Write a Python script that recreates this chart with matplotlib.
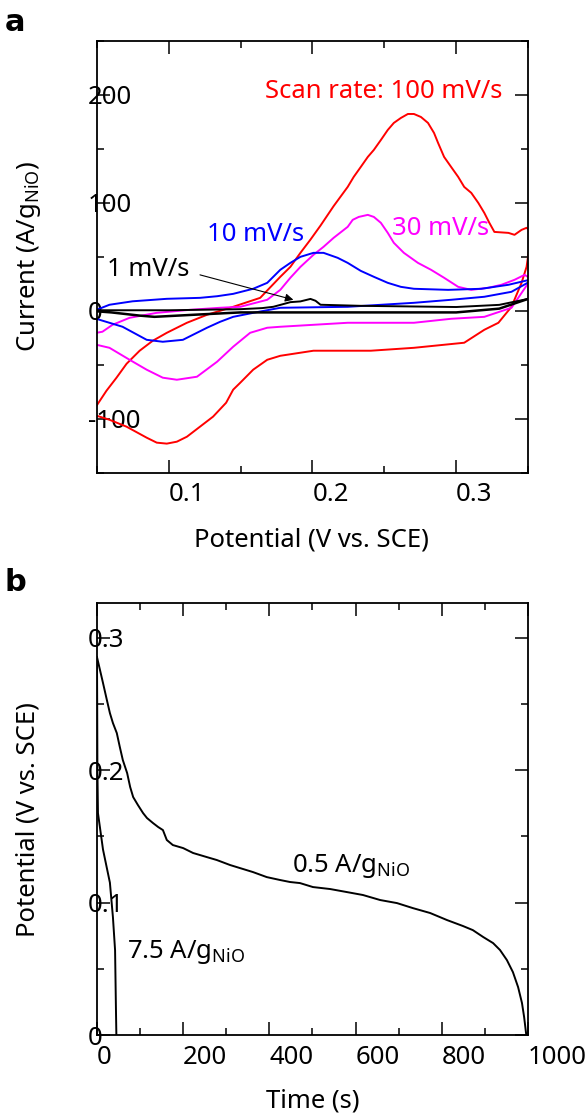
import numpy as np
import matplotlib.pyplot as plt
from matplotlib.ticker import MultipleLocator, FuncFormatter

plt.rcParams['font.family'] = 'Noto Sans'
plt.rcParams['mathtext.fontset'] = 'custom'
plt.rcParams['mathtext.rm'] = 'Noto Sans'
plt.rcParams['mathtext.it'] = 'Noto Sans:italic'

FS = 18.5

# ---- panel a: CV curves (potential V vs SCE, current A/g NiO) ----
# 100 mV/s
red_fwd_x = [0.0497, 0.0566, 0.0636, 0.0706, 0.0797, 0.0888, 0.0986, 0.1126, 0.1266, 0.1448,
             0.1636, 0.1776, 0.1846, 0.1916, 0.1986, 0.2056, 0.2147, 0.2245,
             0.2287, 0.2336, 0.2385, 0.2427, 0.2476, 0.2524, 0.2566, 0.2615, 0.2664, 0.2706,
             0.2755, 0.2804, 0.2846, 0.2874, 0.2916, 0.2965, 0.3014, 0.3056, 0.3105, 0.3154,
             0.3196, 0.3231, 0.3266, 0.3364, 0.3406, 0.3455, 0.3490, 0.3524]
red_fwd_y = [-88, -74.1, -62, -49.1, -37, -27.8, -20.4, -11.1, -3.7, 3.7,
             12, 31.5, 40.7, 53.7, 66, 79, 97, 114.8,
             124.1, 133.3, 142.6, 149.1, 158.3, 167.6, 174.1, 178.7, 182.4, 182.4,
             179.6, 174.1, 164.8, 155.6, 142.6, 133.3, 124.1, 114.8, 109.3, 100,
             90.7, 81.5, 73.1, 72.2, 70.4, 75, 76.9, 73.1]
red_rev_x = [0.3510, 0.3490, 0.3455, 0.3385, 0.3294, 0.3196, 0.3056, 0.2706, 0.2406, 0.2007,
             0.1776, 0.1685, 0.1587, 0.1497, 0.1448, 0.1399, 0.1308, 0.1217, 0.1126, 0.1056,
             0.0986, 0.0916, 0.0846, 0.0706, 0.0587, 0.0497]
red_rev_y = [59.3, 40.7, 25.9, 3.7, -11.1, -17.6, -29.6, -34.3, -37, -37,
             -41.7, -45.4, -54.6, -66.7, -73.1, -85.2, -98.1, -107.4, -116.7, -121.3,
             -123.1, -122.2, -117.6, -107.4, -101, -97.2]

# 30 mV/s
mag_fwd_x = [0.0497, 0.0538, 0.0608, 0.0727, 0.0916, 0.1147, 0.1357, 0.1497, 0.1685, 0.1776,
             0.1846, 0.1916, 0.2007, 0.2077, 0.2147, 0.2245, 0.2280, 0.2322, 0.2385, 0.2427,
             0.2476, 0.2524, 0.2566, 0.2636, 0.2734, 0.2825, 0.2916, 0.3014, 0.3105, 0.3224,
             0.3315, 0.3406, 0.3476, 0.3510]
mag_fwd_y = [-20.4, -19.4, -13.0, -6.5, -1.9, 0.9, 2.8, 3.7, 10.2, 19.4,
             30.6, 40.7, 51.9, 59.3, 67.6, 77.8, 84.3, 87, 88.9, 87,
             81.5, 72.2, 63, 53.7, 44.4, 38, 30.6, 22.2, 19.4, 21.3,
             24.1, 28.7, 33.3, 30.6]
mag_rev_x = [0.3503, 0.3385, 0.3196, 0.2965, 0.2706, 0.2245, 0.1776, 0.1685, 0.1566, 0.1448,
             0.1336, 0.1196, 0.1056, 0.0958, 0.0846, 0.0727, 0.0587, 0.0497]
mag_rev_y = [25.9, 2.8, -5.6, -7.4, -11.1, -11.1, -14.8, -15.7, -20.4, -33.3,
             -47.2, -61.1, -63.9, -62, -54.6, -45.4, -34.3, -31.5]

# 10 mV/s
blu_fwd_x = [0.0497, 0.0587, 0.0748, 0.0986, 0.1217, 0.1336, 0.1448, 0.1587, 0.1685, 0.1776,
             0.1846, 0.1916, 0.2007, 0.2077, 0.2175, 0.2245, 0.2336, 0.2427, 0.2524, 0.2615,
             0.2706, 0.2944, 0.3175, 0.3364, 0.3510]
blu_fwd_y = [0.9, 5.6, 8.8, 11.1, 12.0, 13.5, 15.7, 20.4, 25.9, 38,
             44.4, 50, 53.7, 53.7, 49.1, 44.4, 37, 31.5, 25.9, 22.2,
             20.4, 19.4, 20.4, 24.1, 28.7]
blu_rev_x = [0.3510, 0.3385, 0.3196, 0.2965, 0.2706, 0.2245, 0.1776, 0.1587, 0.1448, 0.1357,
             0.1266, 0.1098, 0.0958, 0.0846, 0.0678, 0.0517, 0.0497]
blu_rev_y = [26.9, 17.6, 13.0, 10.2, 7.4, 3.7, 2.8, -1.9, -5.6, -10.2,
             -15.7, -26.9, -28.7, -26.9, -14.8, -8.3, -7.4]

# 1 mV/s
blk_fwd_x = [0.05, 0.10, 0.15, 0.165, 0.1727, 0.1846, 0.1916, 0.1986, 0.2021, 0.2056,
             0.2336, 0.27, 0.30, 0.33, 0.35]
blk_fwd_y = [0.5, 0.5, 1.5, 2.5, 3.7, 8, 8.7, 11, 9.3, 5.6,
             4.6, 4, 3.5, 5.5, 11]
blk_rev_x = [0.35, 0.33, 0.30, 0.20, 0.15, 0.12, 0.09, 0.08, 0.06, 0.05]
blk_rev_y = [11, 2, -1.5, -1.5, -1.5, -3.5, -5.6, -4.5, -1.5, -0.5]

# ---- panel b: discharge curves (time s, potential V vs SCE) ----
t_low = [0, 7, 14, 23, 30, 37, 46, 53, 60, 70, 77, 84, 95, 107, 116, 130, 142, 153, 162,
         176, 200, 223, 255, 278, 309, 332, 362, 394, 425, 448, 471, 501, 541, 580, 617,
         657, 696, 733, 773, 812, 849, 872, 896, 919, 935, 951, 965, 977, 986, 991, 996]
v_low = [0.2853, 0.2755, 0.2657, 0.2528, 0.2430, 0.2355, 0.2279, 0.2174, 0.2075, 0.1977,
         0.1872, 0.1796, 0.1736, 0.1675, 0.1638, 0.1600, 0.1570, 0.1547, 0.1472,
         0.1434, 0.1411, 0.1374, 0.1343, 0.1321, 0.1283, 0.1260, 0.1230, 0.1192, 0.1170,
         0.1155, 0.1147, 0.1117, 0.1102, 0.1079, 0.1057, 0.1019, 0.0996, 0.0958, 0.0921,
         0.0868, 0.0823, 0.0792, 0.0740, 0.0694, 0.0642, 0.0566, 0.0475, 0.0362, 0.0242,
         0.0136, 0.0]
t_high = [0, 0.5, 1, 2.3, 14, 30, 37, 42, 44, 45]
v_high = [0.285, 0.25, 0.2, 0.1675, 0.140, 0.115, 0.089, 0.064, 0.02, 0.0]

fig = plt.figure(figsize=(5.87, 11.15), dpi=100)
ax1 = fig.add_axes([0.1652, 0.5761, 0.7343, 0.3871])
ax2 = fig.add_axes([0.1652, 0.0717, 0.7343, 0.3874])

lw = 1.4
ax1.plot(red_fwd_x, red_fwd_y, color='#ff0000', lw=lw)
ax1.plot(red_rev_x, red_rev_y, color='#ff0000', lw=lw)
ax1.plot(mag_fwd_x, mag_fwd_y, color='#ff00ff', lw=lw)
ax1.plot(mag_rev_x, mag_rev_y, color='#ff00ff', lw=lw)
ax1.plot(blu_fwd_x, blu_fwd_y, color='#0000ff', lw=lw)
ax1.plot(blu_rev_x, blu_rev_y, color='#0000ff', lw=lw)
ax1.plot(blk_fwd_x, blk_fwd_y, color='black', lw=lw)
ax1.plot(blk_rev_x, blk_rev_y, color='black', lw=lw + 0.4)

ax1.set_xlim(0.05, 0.35)
ax1.set_ylim(-150, 250)
ax1.xaxis.set_major_locator(MultipleLocator(0.1))
ax1.xaxis.set_minor_locator(MultipleLocator(0.05))
ax1.yaxis.set_major_locator(MultipleLocator(100))
ax1.yaxis.set_minor_locator(MultipleLocator(50))
ax1.set_xlabel('Potential (V vs. SCE)', fontsize=FS)
ax1.set_ylabel('Current (A/g$_{\\mathrm{NiO}}$)', fontsize=FS)
ax1.xaxis.set_label_coords(0.497, -0.128)
ax1.yaxis.set_label_coords(-0.125, 0.5)

ax1.text(0.1671, 197, 'Scan rate: 100 mV/s', color='#ff0000', fontsize=FS, va='baseline')
ax1.text(0.2552, 70.4, '30 mV/s', color='#ff00ff', fontsize=FS, va='baseline')
ax1.text(0.1266, 64.8, '10 mV/s', color='#0000ff', fontsize=FS, va='baseline')
ax1.text(0.0573, 32.4, '1 mV/s', color='black', fontsize=FS, va='baseline')
ax1.annotate('', xy=(0.1867, 10.2), xytext=(0.1217, 33.3),
             arrowprops=dict(arrowstyle='-|>', color='black', lw=0.8,
                             mutation_scale=12, shrinkA=0, shrinkB=0))

ax2.plot(t_low, v_low, color='black', lw=lw)
ax2.plot(t_high, v_high, color='black', lw=lw)
ax2.set_xlim(0, 1000)
ax2.set_ylim(0, 0.326)
ax2.xaxis.set_major_locator(MultipleLocator(200))
ax2.xaxis.set_minor_locator(MultipleLocator(100))
ax2.yaxis.set_major_locator(MultipleLocator(0.1))
ax2.yaxis.set_minor_locator(MultipleLocator(0.05))
ax2.set_xlabel('Time (s)', fontsize=FS)
ax2.set_ylabel('Potential (V vs. SCE)', fontsize=FS)
ax2.xaxis.set_label_coords(0.501, -0.123)
ax2.yaxis.set_label_coords(-0.13, 0.5)
ax2.text(452, 0.123, '0.5 A/g$_{\\mathrm{NiO}}$', fontsize=FS, va='baseline')
ax2.text(70, 0.058, '7.5 A/g$_{\\mathrm{NiO}}$', fontsize=FS, va='baseline')

fmt = FuncFormatter(lambda v, pos: '%g' % round(v, 6))
for ax in (ax1, ax2):
    ax.xaxis.set_major_formatter(fmt)
    ax.yaxis.set_major_formatter(fmt)
    for s in ax.spines.values():
        s.set_linewidth(1.3)
    ax.tick_params(which='both', direction='in', top=True, right=True,
                   labelsize=FS, width=1.1)
    ax.tick_params(which='major', length=9.5)
    ax.tick_params(which='minor', length=5)
    ax.tick_params(axis='y', pad=6.5)
    ax.tick_params(axis='x', pad=7)
    plt.setp(ax.get_xticklabels(), ha='left')
    plt.setp(ax.get_yticklabels(), ha='left')

fig.text(0.0256, 0.98, 'a', fontsize=22, fontweight='bold', family='DejaVu Sans',
         va='center', ha='center')
fig.text(0.0256, 0.4775, 'b', fontsize=22, fontweight='bold', family='DejaVu Sans',
         va='center', ha='center')

fig.savefig('out.png', dpi=100)
